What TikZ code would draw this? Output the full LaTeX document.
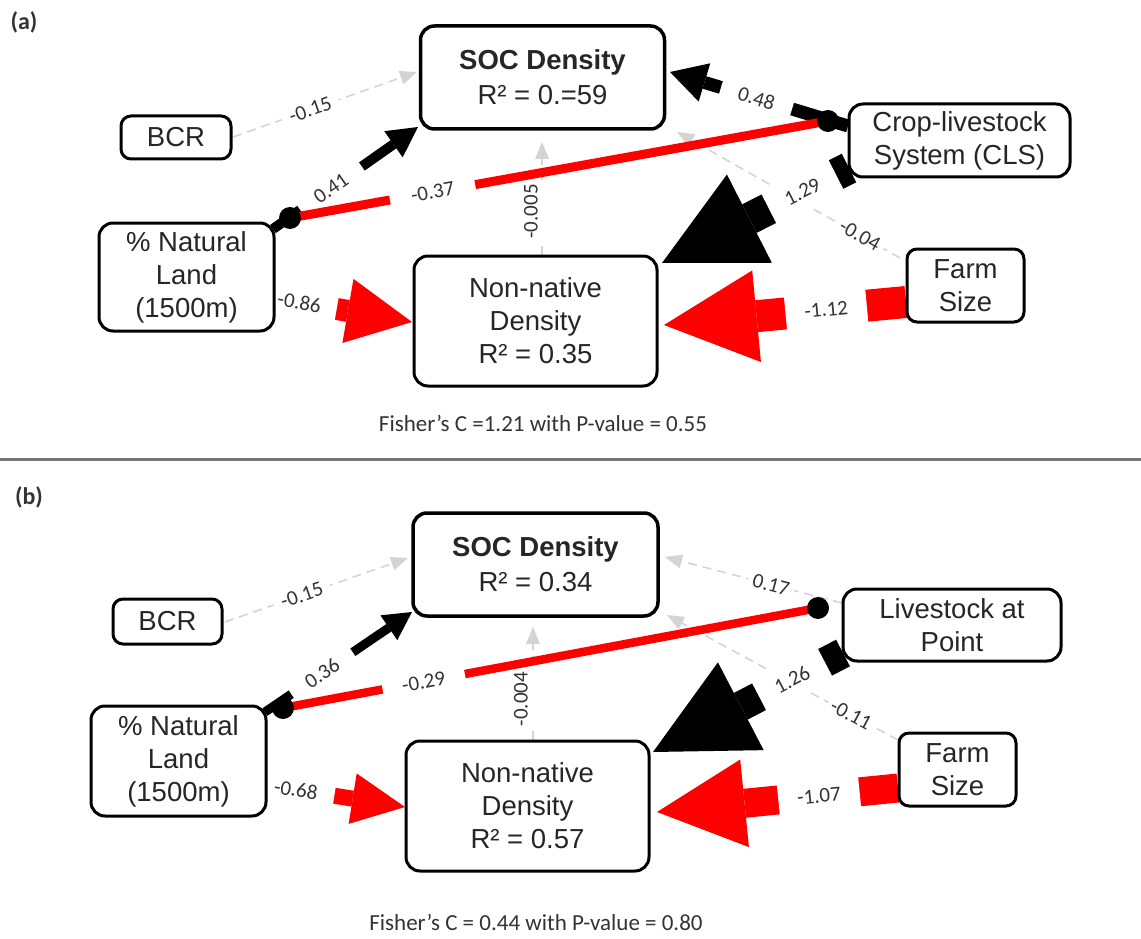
\documentclass[tikz,border=0pt]{standalone}
\usepackage{fontspec}
\setmainfont{Liberation Sans}
\newfontfamily\calfont{Carlito}
\usetikzlibrary{calc}
\definecolor{nodetext}{HTML}{262626}
\definecolor{lbltext}{HTML}{333333}
\definecolor{dashgray}{HTML}{D4D4D4}
\definecolor{sepgray}{HTML}{777777}
\definecolor{pathred}{HTML}{FF0000}
\pgfdeclarelayer{edges}
\pgfsetlayers{edges,main}

% shaft from #2 to the head base, then a filled triangular head with its tip at #3
% #1 style, #4 head length, #5 half of the head width
\newcommand{\arrowlink}[5]{%
  \path ($(#3)!#4!(#2)$) coordinate (hb);
  \draw[#1] (#2) -- (hb);
  \fill[#1] (#3) -- ($(hb)!#5!90:(#3)$) -- ($(hb)!#5!-90:(#3)$) -- cycle;
}

\begin{document}
\begin{tikzpicture}[x=1pt,y=-1pt,
  varbox/.style={draw=black, line width=3pt, rounded corners=14pt, fill=white,
    align=center, inner sep=0pt, text=nodetext, font=\fontsize{27.5}{33}\selectfont},
  socbox/.style={varbox, line width=3.5pt, font=\fontsize{27.5}{35}\selectfont},
  smallbox/.style={varbox, rounded corners=10pt},
  lbl/.style={fill=white, inner xsep=#1, inner ysep=2pt, sloped, text=lbltext,
    font=\calfont\fontsize{21}{21}\selectfont},
  vlbl/.style={fill=white, inner xsep=2pt, inner ysep=7pt, rotate=90, text=lbltext,
    font=\calfont\fontsize{21}{21}\selectfont},
  paneltag/.style={text=lbltext, inner sep=0pt, font=\calfont\bfseries\fontsize{24}{24}\selectfont},
  fittext/.style={text=lbltext, inner sep=0pt, font=\calfont\fontsize{23}{24}\selectfont},
  blk/.style={color=black},
  rd/.style={color=pathred},
  dsh/.style={color=dashgray, line width=1.6pt, dash pattern=on 9pt off 6pt},
  divider/.style={draw=sepgray, line width=3pt}
]
\useasboundingbox (0,0) rectangle (1141,939);

% ---------------- panel (a) ----------------
\node[paneltag] (tagA) at (24,22) {(a)};
\node[socbox, minimum width=244pt, minimum height=103pt] (socA) at (542.5,77.5)
  {\textbf{SOC Density}\\R² = 0.=59};
\node[smallbox, minimum width=110pt, minimum height=43pt] (bcrA) at (176,137.5) {BCR};
\node[varbox, minimum width=221pt, minimum height=73pt] (cropA) at (959.5,140.5)
  {Crop-livestock\\System (CLS)};
\node[varbox, minimum width=175pt, minimum height=108pt] (nlA) at (186.5,277)
  {\% Natural\\Land\\(1500m)};
\node[varbox, minimum width=243pt, minimum height=130pt] (nnA) at (535.5,321)
  {Non-native\\Density\\R² = 0.35};
\node[smallbox, minimum width=117pt, minimum height=73pt] (farmA) at (965.5,285.5)
  {Farm\\Size};
\node[fittext] (fitA) at (543,423) {Fisher’s C =1.21 with P-value = 0.55};

\draw[divider] (0,459) -- (1141,459);

% ---------------- panel (b) ----------------
\node[paneltag] (tagB) at (29,497) {(b)};
\node[socbox, minimum width=245pt, minimum height=103pt] (socB) at (535.5,564.5)
  {\textbf{SOC Density}\\R² = 0.34};
\node[smallbox, minimum width=109pt, minimum height=45pt] (bcrB) at (167.5,621.5) {BCR};
\node[varbox, minimum width=218pt, minimum height=72pt] (liveB) at (952,625)
  {Livestock at\\Point};
\node[varbox, minimum width=175pt, minimum height=110pt] (nlB) at (178.5,761)
  {\% Natural\\Land\\(1500m)};
\node[varbox, minimum width=243pt, minimum height=130pt] (nnB) at (527.5,806)
  {Non-native\\Density\\R² = 0.57};
\node[smallbox, minimum width=117pt, minimum height=73pt] (farmB) at (957.5,769.5)
  {Farm\\Size};
\node[fittext] (fitB) at (536,922) {Fisher’s C = 0.44 with P-value = 0.80};

% ---------------- path end points ----------------
\coordinate (a1s) at ($(bcrA.center)+(57,-0.5)$);
\coordinate (a1t) at ($(socA.center)+(-125.5,-5.5)$);
\coordinate (a2s) at ($(nlA.center)+(86.5,-48)$);
\coordinate (a2t) at ($(socA.center)+(-124.5,49.5)$);
\coordinate (a3s) at ($(cropA.center)+(-111.5,-14.5)$);
\coordinate (a3t) at ($(socA.center)+(127.5,-5.5)$);
\coordinate (a4s) at ($(nlA.center)+(103.5,-59)$);
\coordinate (a4t) at ($(cropA.center)+(-131.5,-19.5)$);
\coordinate (a5s) at ($(nnA.center)+(6.5,-66)$);
\coordinate (a5t) at ($(socA.center)+(-0.5,64.5)$);
\coordinate (a6s) at ($(cropA.center)+(-110.5,27.5)$);
\coordinate (a6t) at ($(nnA.center)+(126.5,-58)$);
\coordinate (a7s) at ($(farmA.center)+(-65.5,-27.5)$);
\coordinate (a7t) at ($(socA.center)+(134.5,54.5)$);
\coordinate (a8s) at ($(nlA.center)+(86.5,21)$);
\coordinate (a8t) at ($(nnA.center)+(-123.5,1)$);
\coordinate (a9s) at ($(farmA.center)+(-59.5,16.5)$);
\coordinate (a9t) at ($(nnA.center)+(128.5,4)$);

\coordinate (b1s) at ($(bcrB.center)+(57.5,0.5)$);
\coordinate (b1t) at ($(socB.center)+(-127.5,-6.5)$);
\coordinate (b2s) at ($(nlB.center)+(86.5,-49)$);
\coordinate (b2t) at ($(socB.center)+(-123.5,47.5)$);
\coordinate (b3s) at ($(liveB.center)+(-110,-22)$);
\coordinate (b3t) at ($(socB.center)+(129.5,-7.5)$);
\coordinate (b4s) at ($(nlB.center)+(104.5,-53)$);
\coordinate (b4t) at ($(liveB.center)+(-134,-17)$);
\coordinate (b5s) at ($(nnB.center)+(5.5,-66)$);
\coordinate (b5t) at ($(socB.center)+(-2.5,62.5)$);
\coordinate (b6s) at ($(liveB.center)+(-109,28)$);
\coordinate (b6t) at ($(nnB.center)+(125.5,-54)$);
\coordinate (b7s) at ($(farmB.center)+(-59.5,-29.5)$);
\coordinate (b7t) at ($(socB.center)+(131.5,50.5)$);
\coordinate (b8s) at ($(nlB.center)+(88.5,24)$);
\coordinate (b8t) at ($(nnB.center)+(-122.5,1)$);
\coordinate (b9s) at ($(farmB.center)+(-59.5,18.5)$);
\coordinate (b9t) at ($(nnB.center)+(129.5,6)$);

\begin{pgfonlayer}{edges}
% ---- panel (a): non-significant paths
\arrowlink{dsh}{a1s}{a1t}{17pt}{7pt}
\arrowlink{dsh}{a5s}{a5t}{17pt}{7pt}
\arrowlink{dsh}{a7s}{a7t}{17pt}{7pt}
\path (a1s) -- (a1t) node[lbl=8pt, pos=0.42] (la1) {-0.15};
\node[vlbl] (la5) at ($(a5s)!0.385!(a5t)+(-11,0)$) {-0.005};
\path (a7s) -- (a7t) node[lbl=5pt, pos=0.18] (la7) {-0.04};
% ---- panel (a): significant paths
\arrowlink{blk, line width=10pt}{a2s}{a2t}{30pt}{16pt}
\arrowlink{blk, line width=13pt}{a3s}{a3t}{36pt}{20pt}
\arrowlink{blk, line width=32pt}{a6s}{a6t}{98pt}{49.5pt}
\arrowlink{rd, line width=22pt}{a8s}{a8t}{65pt}{32.5pt}
\arrowlink{rd, line width=32pt}{a9s}{a9t}{93pt}{46pt}
\path (a2s) -- (a2t) node[lbl=19pt, pos=0.40] (la2) {0.41};
\path (a3s) -- (a3t) node[lbl=18.5pt, inner ysep=3pt, pos=0.514] (la3) {0.48};
\path (a6s) -- (a6t) node[lbl=19pt, inner ysep=12pt, pos=0.249] (la6) {1.29};
\path (a8s) -- (a8t) node[lbl=16pt, inner ysep=6pt, pos=0.19] (la8) {-0.86};
\path (a9s) -- (a9t) node[lbl=19pt, inner ysep=11pt, pos=0.33] (la9) {-1.12};
% ---- panel (a): correlated error
\draw[rd, line width=9pt] (a4s) -- (a4t);
\path (a4s) -- (a4t) node[lbl=21.4pt, pos=0.265] (la4) {-0.37};
\fill[black] (a4s) circle[radius=11pt] (a4t) circle[radius=11pt];

% ---- panel (b): non-significant paths
\arrowlink{dsh}{b1s}{b1t}{17pt}{7pt}
\arrowlink{dsh}{b3s}{b3t}{17pt}{7pt}
\arrowlink{dsh}{b5s}{b5t}{17pt}{7pt}
\arrowlink{dsh}{b7s}{b7t}{17pt}{7pt}
\path (b1s) -- (b1t) node[lbl=8pt, pos=0.42] (lb1) {-0.15};
\path (b3s) -- (b3t) node[lbl=5pt, pos=0.40] (lb3) {0.17};
\node[vlbl] (lb5) at ($(b5s)!0.363!(b5t)+(-12,0)$) {-0.004};
\path (b7s) -- (b7t) node[lbl=4pt, pos=0.203] (lb7) {-0.11};
% ---- panel (b): significant paths
\arrowlink{blk, line width=9pt}{b2s}{b2t}{28pt}{15pt}
\arrowlink{blk, line width=30pt}{b6s}{b6t}{99pt}{49.5pt}
\arrowlink{rd, line width=16pt}{b8s}{b8t}{53pt}{25.5pt}
\arrowlink{rd, line width=29pt}{b9s}{b9t}{88pt}{44pt}
\path (b2s) -- (b2t) node[lbl=18.5pt, pos=0.388] (lb2) {0.36};
\path (b6s) -- (b6t) node[lbl=18.5pt, inner ysep=11pt, pos=0.268] (lb6) {1.26};
\path (b8s) -- (b8t) node[lbl=17pt, inner ysep=4pt, pos=0.21] (lb8) {-0.68};
\path (b9s) -- (b9t) node[lbl=19pt, inner ysep=10pt, pos=0.328] (lb9) {-1.07};
% ---- panel (b): correlated error
\draw[rd, line width=8.5pt] (b4s) -- (b4t);
\path (b4s) -- (b4t) node[lbl=20pt, pos=0.263] (lb4) {-0.29};
\fill[black] (b4s) circle[radius=11pt] (b4t) circle[radius=11pt];
\end{pgfonlayer}
\end{tikzpicture}
\end{document}
